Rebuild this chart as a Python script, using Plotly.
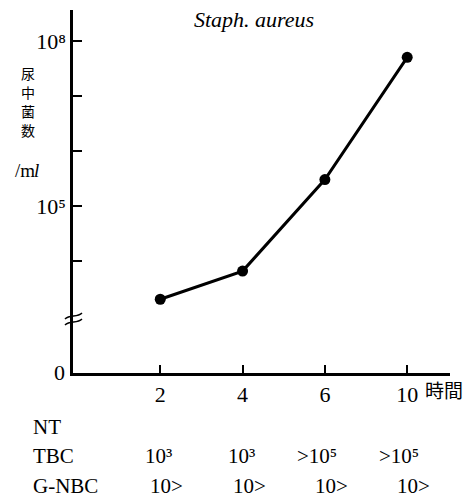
import plotly.graph_objects as go

# ---- data ----
hours = ["2", "4", "6", "10"]
counts = [2000, 6500, 3.0e5, 5.0e7]
y_tickvals = [1e8, 1e5]
y_ticktext = ["10⁸", "10⁵"]
y_minor_tickvals = [1e7, 1e6, 1e4]
row_labels = ["NT", "TBC", "G-NBC"]
tbc_vals = ["10³", "10³", ">10⁵", ">10⁵"]
gnbc_vals = ["10>", "10>", "10>", "10>"]
ylabel_chars = ["尿", "中", "菌", "数"]
title = "Staph. aureus"

SERIF = "Liberation Serif"
CJK = "Noto Sans CJK JP"

OFF = 8  # page body margin
# plot area in reference pixels
L, T, W, H = 73, 10, 377, 363
def px(x):
    return (x - L) / W
def py(y):
    return (T + H - y) / H

FW, FH = 475 - OFF, 502 - OFF

fig = go.Figure()
fig.add_trace(go.Scatter(
    x=hours, y=counts, mode="lines+markers",
    line=dict(color="black", width=3),
    marker=dict(color="black", size=11),
    showlegend=False, cliponaxis=False,
))

fig.update_layout(
    width=FW, height=FH,
    margin=dict(l=L - OFF, r=FW - (L - OFF) - W, t=T - OFF, b=FH - (T - OFF) - H),
    paper_bgcolor="white", plot_bgcolor="white",
    font=dict(family=SERIF, color="black", size=20),
    xaxis=dict(
        type="category", range=[-1.06, 3.52],
        showline=True, linecolor="black", linewidth=2.5,
        ticks="inside", ticklen=8, tickwidth=1.5, tickcolor="black",
        showgrid=False, zeroline=False,
        tickfont=dict(family=SERIF, size=22),
    ),
    yaxis=dict(
        type="log", range=[1.96, 8.56],
        showline=True, linecolor="black", linewidth=2.5,
        ticks="inside", ticklen=9, tickwidth=1.5, tickcolor="black",
        tickvals=y_tickvals, ticktext=y_ticktext,
        minor=dict(tickvals=y_minor_tickvals, ticks="inside", ticklen=9,
                   tickwidth=1.5, tickcolor="black", showgrid=False),
        showgrid=False, zeroline=False,
        tickfont=dict(family=SERIF, size=22),
    ),
)

def pa(text, x, y, fam=SERIF, size=20, xanchor="center", style="normal"):
    return dict(text=text, x=px(x), y=py(y), xref="paper", yref="paper",
                xanchor=xanchor, yanchor="middle", showarrow=False,
                font=dict(family=fam, size=size, style=style))

ann = []
ann.append(pa(title, 254, 20, size=22, style="italic"))
for ch, yy in zip(ylabel_chars, [73, 92, 111, 130]):
    ann.append(pa(ch, 28, yy, fam=CJK, size=14))
ann.append(pa("/m", 37, 170, size=19, xanchor="right"))
ann.append(pa("l", 32, 170, size=19, xanchor="left", style="italic"))
ann.append(pa("0", 67, 372, size=22, xanchor="right"))
ann.append(pa("時間", 444, 390, fam=CJK, size=19))
for lab, yy in zip(row_labels, [427, 456, 486]):
    ann.append(pa(lab, 31, yy, size=21, xanchor="left"))
for i, v in enumerate(tbc_vals):
    ann.append(dict(text=v, x=i, y=py(456), xref="x", yref="paper",
                    xanchor="right", yanchor="middle", xshift=14, showarrow=False,
                    font=dict(family=SERIF, size=21)))
for i, v in enumerate(gnbc_vals):
    ann.append(dict(text=v, x=i, y=py(486), xref="x", yref="paper",
                    xanchor="left", yanchor="middle", xshift=-12, showarrow=False,
                    font=dict(family=SERIF, size=21)))
fig.update_layout(annotations=ann)

# axis break mark
shapes = []
for dy in (0, 6):
    x0, x1 = px(65), px(82)
    y0, y1 = py(319 + dy), py(313 + dy)
    xm1, xm2 = px(70), px(77)
    ym1, ym2 = py(314 + dy), py(318 + dy)
    shapes.append(dict(type="path", xref="paper", yref="paper",
                       path=f"M {x0},{y0} C {xm1},{ym1} {xm2},{ym2} {x1},{y1}",
                       line=dict(color="black", width=1.5)))
fig.update_layout(shapes=shapes)

fig.write_html("out.html")
